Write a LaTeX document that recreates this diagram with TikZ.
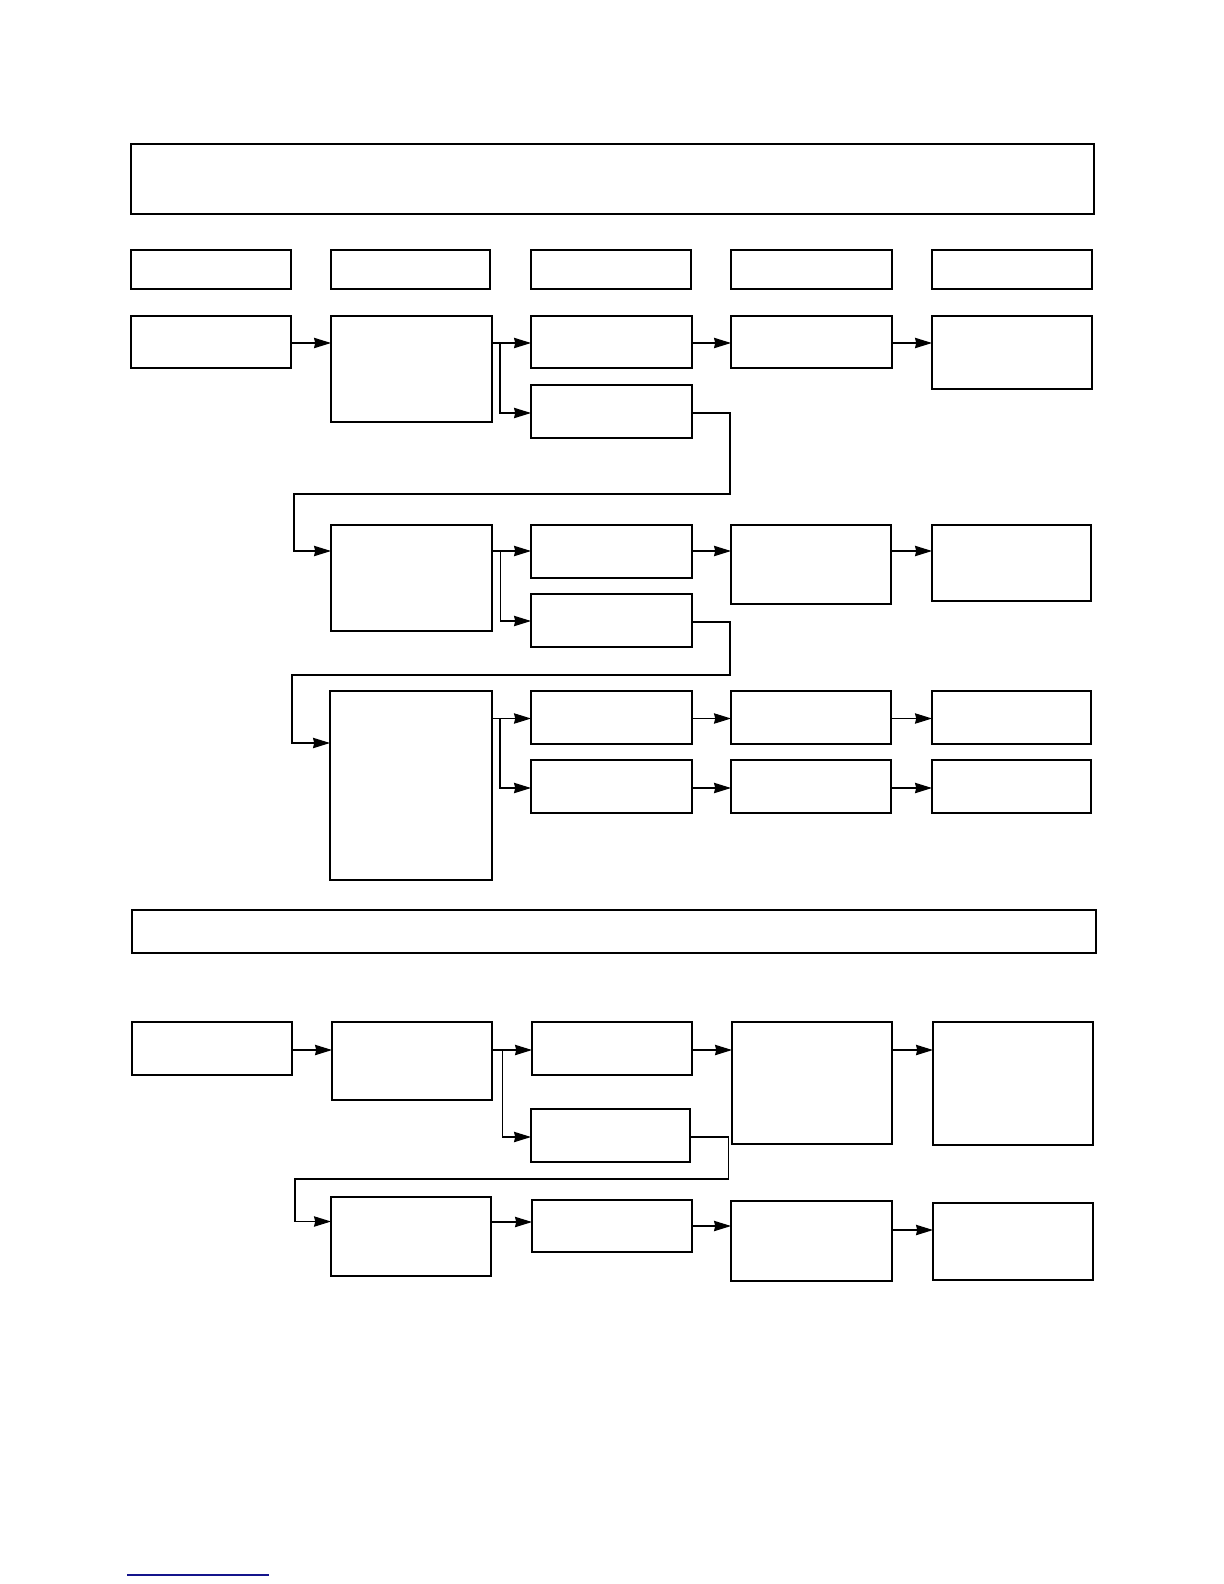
\documentclass[tikz,border=0pt]{standalone}
\usetikzlibrary{arrows.meta}
\definecolor{linkblue}{RGB}{20,20,140}
\tikzset{
  box/.style={draw=black,line width=0.55pt,rectangle,inner sep=0pt,outer sep=0pt,anchor=north west},
  arr/.style={draw=black,line width=0.55pt,-{Stealth[length=8.5pt,width=5.2pt,inset=0.6pt]}},
  ln/.style={draw=black,line width=0.55pt}
}
\newcommand{\bx}[5]{\node[box,minimum width={(#4-#2)*0.5pt},minimum height={(#5-#3)*0.5pt}] (#1) at (#2,#3) {};}
\newcommand{\harr}[3]{\draw[arr] (#1.east |- 0,#3) -- (#2.west |- 0,#3);}
\begin{document}
\begin{tikzpicture}[x=0.5pt,y=-0.5pt]
\fill[white] (0,0) rectangle (1224,1584);
\useasboundingbox (0,0) rectangle (1224,1584);
% top and header
\bx{top}{131}{144}{1094}{214}
\bx{H1}{131}{250}{291}{289}
\bx{H2}{331}{250}{490}{289}
\bx{H3}{531}{250}{691}{289}
\bx{H4}{731}{250}{892}{289}
\bx{H5}{932}{250}{1092}{289}
% row 1
\bx{A1}{131}{316}{291}{368}
\bx{B1}{331}{316}{492}{422}
\bx{C1}{531}{316}{692}{368}
\bx{D1}{731}{316}{892}{368}
\bx{E1}{932}{316}{1092}{389}
\bx{C1b}{531}{385}{692}{438}
% row 2
\bx{B2}{331}{525}{492}{631}
\bx{C2}{531}{525}{692}{578}
\bx{D2}{731}{525}{891}{604}
\bx{E2}{932}{525}{1091}{601}
\bx{C2b}{531}{594}{692}{647}
% row 3
\bx{B3}{330}{691}{492}{880}
\bx{C3}{531}{691}{692}{744}
\bx{D3}{731}{691}{891}{744}
\bx{E3}{932}{691}{1091}{744}
\bx{C3b}{531}{760}{692}{813}
\bx{D3b}{731}{760}{891}{813}
\bx{E3b}{932}{760}{1091}{813}
% middle band
\bx{mid}{132}{910}{1096}{953}
% section 2
\bx{A4}{132}{1022}{292}{1075}
\bx{B4}{332}{1022}{492}{1100}
\bx{C4}{532}{1022}{692}{1075}
\bx{D4}{732}{1022}{892}{1144}
\bx{E4}{933}{1022}{1093}{1145}
\bx{C4b}{531}{1109}{690}{1162}
\bx{B5}{331}{1197}{491}{1276}
\bx{C5}{532}{1200}{692}{1252}
\bx{D5}{731}{1201}{892}{1281}
\bx{E5}{933}{1203}{1093}{1280}
% fork points and loop corners
\coordinate (F1) at (500,343);
\coordinate (F2) at (500.5,551);
\coordinate (F3) at (500,718.5);
\coordinate (F4) at (502.5,1050);
\coordinate (L1a) at (730,494);
\coordinate (L1b) at (294,494);
\coordinate (L2a) at (730,675);
\coordinate (L2b) at (292,675);
\coordinate (L3a) at (728.5,1179);
\coordinate (L3b) at (295,1179);
% row 1 arrows
\harr{A1}{B1}{343}
\harr{B1}{C1}{343}
\harr{C1}{D1}{343}
\harr{D1}{E1}{343}
\draw[arr] (F1) |- (C1b.west |- 0,413);
\draw[arr] (C1b.east |- 0,413) -| (L1a) -- (L1b) |- (B2.west |- 0,551);
% row 2 arrows
\harr{B2}{C2}{551}
\harr{C2}{D2}{551}
\harr{D2}{E2}{551}
\draw[arr] (F2) |- (C2b.west |- 0,621);
\draw[arr] (C2b.east |- 0,622) -| (L2a) -- (L2b) |- (B3.west |- 0,743);
% row 3 arrows
\harr{B3}{C3}{718.5}
\harr{C3}{D3}{718.5}
\harr{D3}{E3}{718.5}
\draw[arr] (F3) |- (C3b.west |- 0,788);
\harr{C3b}{D3b}{788}
\harr{D3b}{E3b}{788}
% section 2 arrows
\harr{A4}{B4}{1050}
\harr{B4}{C4}{1050}
\harr{C4}{D4}{1050}
\harr{D4}{E4}{1050}
\draw[arr] (F4) |- (C4b.west |- 0,1137);
\draw[arr] (C4b.east |- 0,1137) -| (L3a) -- (L3b) |- (B5.west |- 0,1221.5);
\harr{B5}{C5}{1222}
\harr{C5}{D5}{1226}
\harr{D5}{E5}{1230}
% footnote rule
\draw[linkblue,line width=0.6pt] (127,1575) -- (269,1575);
\end{tikzpicture}
\end{document}
